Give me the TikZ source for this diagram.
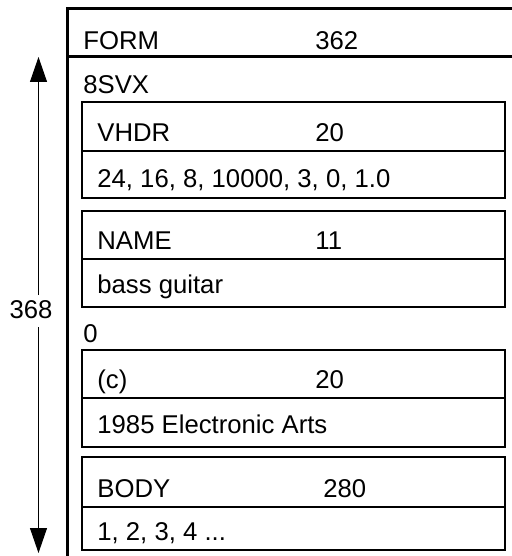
\documentclass[tikz,border=0pt]{standalone}
\usepackage{fontspec}
\setmainfont{Liberation Sans}
\usetikzlibrary{arrows.meta}
\begin{document}
\begin{tikzpicture}[x=0.5pt,y=-0.5pt,
  frame/.style={line width=1.5pt, line join=miter},
  chunk/.style={line width=1.4pt, line join=miter},
  lbl/.style={inner sep=0pt, anchor=base west, font=\fontsize{12.85}{15}\selectfont},
  dimline/.style={line width=0.5pt, -{Triangle[width=8.5pt,length=12.5pt]}}]
\useasboundingbox (0,0) rectangle (512,556);
% outer FORM chunk (cropped at right and bottom)
\draw[frame] (512,9) -- (67,9) -- (67,556);
\draw[frame] (67,57) -- (512,57);
\node[lbl] (form) at (83,50) {FORM};
\node[lbl] (formsize) at (315,50) {362};
\node[lbl] (svx) at (83,94) {8SVX};
% VHDR
\draw[chunk] (82,102) rectangle (505,198);
\draw[chunk] (82,151) -- (505,151);
\node[lbl] (vhdr) at (97,141) {VHDR};
\node[lbl] (vhdrsize) at (315,141) {20};
\node[lbl] (vhdrdata) at (97,187) {24, 16, 8, 10000, 3, 0, 1.0};
% NAME
\draw[chunk] (82,211) rectangle (505,307);
\draw[chunk] (82,259) -- (505,259);
\node[lbl] (name) at (97,249) {NAME};
\node[lbl] (namesize) at (315,249) {11};
\node[lbl] (namedata) at (97,293) {bass guitar};
% pad byte
\node[lbl] (pad) at (83,342) {0};
% (c)
\draw[chunk] (82,350) rectangle (505,447);
\draw[chunk] (82,398) -- (505,398);
\node[lbl] (copy) at (97,388) {(c)};
\node[lbl] (copysize) at (315,388) {20};
\node[lbl] (copydata) at (97,433) {1985 Electronic Arts};
% BODY
\draw[chunk] (82,457) rectangle (505,550);
\draw[chunk] (82,507) -- (505,507);
\node[lbl] (body) at (97,497) {BODY};
\node[lbl] (bodysize) at (323,497) {280};
\node[lbl] (bodydata) at (97,540) {1, 2, 3, 4 ...};
% dimension arrow
\node[lbl, anchor=center] (total) at (31,310) {368};
\coordinate (atop) at (38.5,57);
\coordinate (abot) at (38.5,553);
\coordinate (gtop) at (38.5,295);
\coordinate (gbot) at (38.5,327);
\draw[dimline] (gtop) -- (atop);
\draw[dimline] (gbot) -- (abot);
\end{tikzpicture}
\end{document}
